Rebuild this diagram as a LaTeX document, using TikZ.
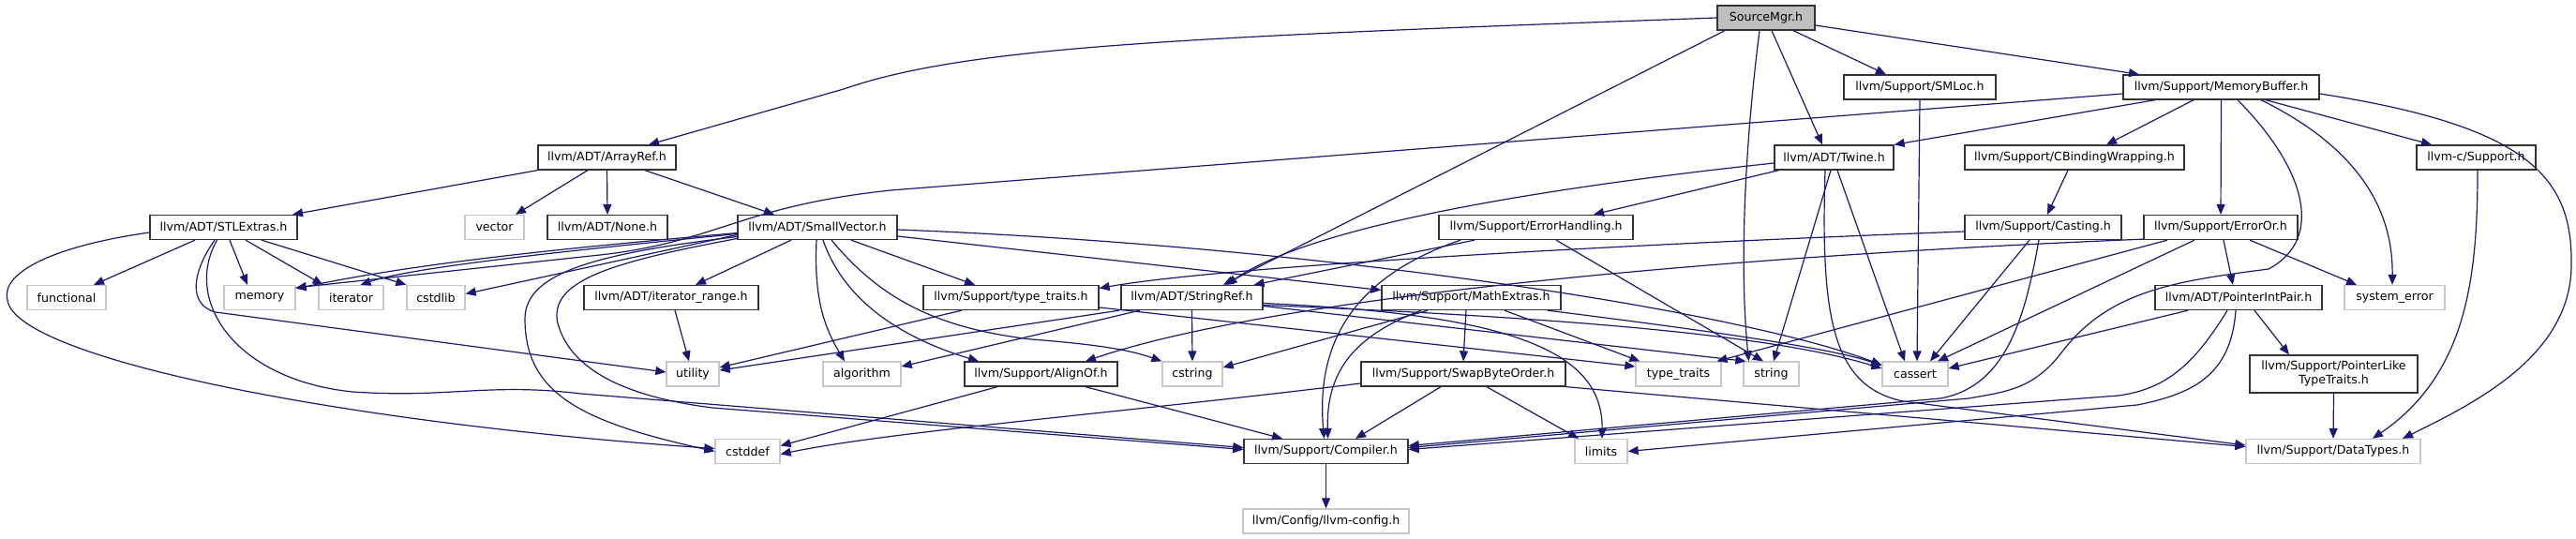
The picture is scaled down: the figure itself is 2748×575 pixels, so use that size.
\documentclass[tikz,border=0pt]{standalone}
\usepackage{fontspec}
\setmainfont{DejaVu Sans}
\usetikzlibrary{arrows.meta,calc}
\definecolor{edgec}{HTML}{191970}
\definecolor{srcfill}{HTML}{BFBFBF}
\begin{document}
\begin{tikzpicture}[x=1pt,y=-1pt,
 box/.style={draw=black!80, line width=1.3pt, fill=white, minimum height=26pt, inner sep=0pt, font=\fontsize{12.6}{15}\selectfont},
 sys/.style={box, draw=black!22, line width=1.3pt},
 e/.style={draw=edgec, line width=1.2pt, -{Triangle[length=11pt,width=9pt]}}]
\useasboundingbox[fill=white] (0,0) rectangle (2748,575);
% nodes
\node[box, fill=srcfill, minimum width=104pt] (SM) at (1884,19) {SourceMgr.h};
\node[box, minimum width=162pt] (SMLoc) at (2048,93) {llvm/Support/SMLoc.h};
\node[box, minimum width=209pt] (MB) at (2369.5,93) {llvm/Support/MemoryBuffer.h};
\node[box, minimum width=147pt] (AR) at (647.5,168) {llvm/ADT/ArrayRef.h};
\node[box, minimum width=127pt] (TW) at (1956.5,168) {llvm/ADT/Twine.h};
\node[box, minimum width=234pt] (CBW) at (2213,168) {llvm/Support/CBindingWrapping.h};
\node[box, minimum width=127pt] (LCS) at (2641.5,168) {llvm-c/Support.h};
\node[box, minimum width=157pt] (STL) at (238.5,242.5) {llvm/ADT/STLExtras.h};
\node[sys, minimum width=63pt] (vec) at (527.5,242.5) {vector};
\node[box, minimum width=128pt] (None) at (648,242.5) {llvm/ADT/None.h};
\node[box, minimum width=170pt] (SV) at (872,242.5) {llvm/ADT/SmallVector.h};
\node[box, minimum width=207pt] (EH) at (1638.5,242.5) {llvm/Support/ErrorHandling.h};
\node[box, minimum width=167pt] (CAST) at (2179.5,242.5) {llvm/Support/Casting.h};
\node[box, minimum width=164pt] (EO) at (2369,242.5) {llvm/Support/ErrorOr.h};
\node[sys, minimum width=84pt] (func) at (71,317.5) {functional};
\node[sys, minimum width=76pt] (mem) at (277,317.5) {memory};
\node[sys, minimum width=69pt] (iter) at (374.5,317.5) {iterator};
\node[sys, minimum width=62pt] (cstdlib) at (465,317.5) {cstdlib};
\node[box, minimum width=186pt] (IR) at (716,317.5) {llvm/ADT/iterator\_range.h};
\node[box, minimum width=187pt] (TTH) at (1078.5,317.5) {llvm/Support/type\_traits.h};
\node[box, minimum width=151pt] (SR) at (1271.5,317.5) {llvm/ADT/StringRef.h};
\node[box, minimum width=191pt] (ME) at (1569.5,317.5) {llvm/Support/MathExtras.h};
\node[box, minimum width=178pt] (PIP) at (2388,317.5) {llvm/ADT/PointerIntPair.h};
\node[sys, minimum width=107pt] (syserr) at (2554.5,317.5) {system\_error};
\node[sys, minimum width=56pt] (util) at (739,399) {utility};
\node[sys, minimum width=83pt] (algo) at (919.5,399) {algorithm};
\node[box, minimum width=163pt] (AO) at (1110.5,399) {llvm/Support/AlignOf.h};
\node[sys, minimum width=64pt] (cstring) at (1272,399) {cstring};
\node[box, minimum width=218pt] (SBO) at (1561,399) {llvm/Support/SwapByteOrder.h};
\node[sys, minimum width=91pt] (tt) at (1790.5,399) {type\_traits};
\node[sys, minimum width=59pt] (str) at (1889.5,399) {string};
\node[sys, minimum width=70pt] (cassert) at (2043,399) {cassert};
\node[box, minimum width=179pt, minimum height=40pt, align=center] (PLTT) at (2489.5,399) {llvm/Support/PointerLike\\TypeTraits.h};
\node[sys, minimum width=69pt] (cstddef) at (797.5,481.5) {cstddef};
\node[box, minimum width=175pt] (CMP) at (1414.5,481.5) {llvm/Support/Compiler.h};
\node[sys, minimum width=56pt] (lim) at (1708,481.5) {limits};
\node[sys, minimum width=186pt] (DT) at (2489,481.5) {llvm/Support/DataTypes.h};
\node[sys, minimum width=177pt] (cfg) at (1414.5,556) {llvm/Config/llvm-config.h};
% SourceMgr
\draw[e] (SM.west) .. controls (1250,40) and (1030,50) .. (900,95) -- ([xshift=44.5pt]AR.north);
\draw[e] ([xshift=-44pt]SM.south) -- ([xshift=33.5pt]SR.north);
\draw[e] ([xshift=-7pt]SM.south) .. controls (1862,150) and (1855,280) .. ([xshift=-24pt]str.north);
\draw[e] ([xshift=6pt]SM.south) -- ([xshift=-12.5pt]TW.north);
\draw[e] ([xshift=29pt]SM.south) -- ([xshift=-36pt]SMLoc.north);
\draw[e] ([yshift=-8pt]SM.east) -- ([xshift=-87.5pt]MB.north);
\draw[e] (SMLoc.south) -- ([xshift=2pt]cassert.north);
% MemoryBuffer
\draw[e] ([yshift=-7pt]MB.west) -- (950,203) .. controls (790,220) and (765,258) .. (640,272) -- ([yshift=-3pt]mem.north east);
\draw[e] ([xshift=-70.5pt]MB.south) -- (TW.north east);
\draw[e] ([xshift=-29.5pt]MB.south) -- ([xshift=34pt]CBW.north);
\draw[e] (MB.south) -- (EO.north);
\draw[e] ([xshift=47.5pt]MB.south) -- ([xshift=-47.5pt]LCS.north);
\draw[e] ([yshift=-7pt]MB.east) .. controls (2700,135) and (2745,190) .. (2743,285) .. controls (2741,380) and (2640,430) .. ([xshift=74pt]DT.north);
\draw[e] ([xshift=17.5pt]MB.south) .. controls (2460,180) and (2480,255) .. (2420,287) .. controls (2320,300) and (2250,310) .. (2200,375) .. controls (2170,415) and (2140,418) .. (2100,425) -- ([yshift=4pt]CMP.east);
\draw[e] ([xshift=42.5pt]MB.south) .. controls (2500,150) and (2553,210) .. ([xshift=-2.5pt]syserr.north);
% ArrayRef
\draw[e] (AR.south west) -- ([xshift=73.5pt]STL.north);
\draw[e] ([xshift=-20.5pt]AR.south) -- ([xshift=22.5pt]vec.north);
\draw[e] (AR.south) -- (None.north);
\draw[e] ([xshift=40.5pt]AR.south) -- ([xshift=-46pt]SV.north);
% Twine
\draw[e] ([yshift=-6pt]TW.west) .. controls (1650,200) and (1400,240) .. ([xshift=37pt]SR.north);
\draw[e] ([xshift=5pt]TW.south west) -- ([xshift=61.5pt]EH.north);
\draw[e] ([xshift=-3.5pt]TW.south) -- ([xshift=2.5pt]str.north);
\draw[e] ([xshift=3.5pt]TW.south) -- ([xshift=-11pt]cassert.north);
\draw[e] ([xshift=-9.5pt]TW.south) .. controls (1942,340) and (1955,412) .. (2030,428) -- ([yshift=6.5pt]DT.west);
\draw[e] ([xshift=-7pt]CBW.south) -- ([xshift=4.5pt]CAST.north);
\draw[e] ([xshift=1.5pt]LCS.south) .. controls (2643,300) and (2630,400) .. ([xshift=42pt]DT.north);
% STLExtras
\draw[e] ([xshift=-30.5pt]STL.south) -- ([xshift=29pt]func.north);
\draw[e] ([xshift=6.5pt]STL.south) -- ([xshift=-13pt]mem.north);
\draw[e] ([xshift=23.5pt]STL.south) -- ([xshift=-30pt]iter.north);
\draw[e] ([xshift=40.5pt]STL.south) -- (cstdlib.north west);
\draw[e] ([xshift=-9.5pt]STL.south) .. controls (205,290) and (200,325) .. (230,333) -- ([yshift=2pt]util.west);
\draw[e] ([yshift=-5.5pt]STL.west) .. controls (60,262) and (0,290) .. (8,320) .. controls (15,380) and (350,450) .. ([yshift=3pt]cstddef.west);
\draw[e] ([xshift=-7pt]STL.south) .. controls (195,320) and (250,405) .. (376,418) .. controls (480,425) and (520,408) .. (620,420) -- ([yshift=4pt]CMP.west);
% SmallVector
\draw[e] ([xshift=-28pt]SV.south) -- ([xshift=26pt]IR.north);
\draw[e] ([xshift=-1pt]SV.south) .. controls (868,320) and (880,350) .. ([xshift=-18.5pt]algo.north);
\draw[e] ([xshift=6pt]SV.south) .. controls (900,320) and (960,360) .. ([xshift=-66.5pt]AO.north);
\draw[e] ([xshift=15pt]SV.south) .. controls (940,320) and (1000,350) .. (1100,362) .. controls (1180,368) and (1210,375) .. (cstring.north west);
\draw[e] ([xshift=36pt]SV.south) -- ([xshift=-38.5pt]TTH.north);
\draw[e] ([yshift=-9.5pt]SV.east) -- ([yshift=8pt]ME.west);
\draw[e] ([yshift=-2.5pt]SV.east) .. controls (1400,262) and (1850,330) .. ([yshift=-4pt]cassert.north west);
\draw[e] ([yshift=-10pt]SV.west) .. controls (640,270) and (560,290) .. (560,340) .. controls (560,420) and (620,450) .. (cstddef.west);
\draw[e] ([yshift=-12pt]SV.west) .. controls (650,280) and (585,300) .. (595,345) .. controls (610,400) and (680,425) .. (760,435) -- ([yshift=2pt]CMP.west);
\draw[e] ([yshift=-6pt]SV.west) .. controls (600,265) and (450,280) .. ([yshift=-4pt]mem.north east);
\draw[e] ([yshift=-7pt]SV.west) .. controls (600,268) and (440,285) .. ([xshift=10pt]iter.north);
\draw[e] ([yshift=-8pt]SV.west) -- ([yshift=4pt]cstdlib.east);
% MathExtras
\draw[e] ([xshift=-46.5pt]ME.south) -- ([yshift=7pt]cstring.east);
\draw[e] ([xshift=-5.5pt]ME.south) -- (SBO.north);
\draw[e] ([xshift=35.5pt]ME.south) -- ([xshift=5pt]tt.north west);
\draw[e] ([xshift=-53.5pt]ME.south) .. controls (1440,360) and (1415,400) .. ([xshift=2pt]CMP.north);
\draw[e] ([xshift=81.5pt]ME.south) .. controls (1800,350) and (1950,370) .. ([yshift=9pt]cassert.west);
% SwapByteOrder
\draw[e] ([yshift=-10pt]SBO.west) .. controls (1200,440) and (950,460) .. ([yshift=-3pt]cstddef.east);
\draw[e] ([xshift=-24pt]SBO.south) -- ([xshift=31.5pt]CMP.north);
\draw[e] ([xshift=25pt]SBO.south) -- ([xshift=-24pt]lim.north);
\draw[e] (SBO.south east) -- ([yshift=5pt]DT.west);
% AlignOf
\draw[e] ([xshift=-46.5pt]AO.south) -- ([yshift=6pt]cstddef.east);
\draw[e] ([xshift=47.5pt]AO.south) -- ([xshift=-46.5pt]CMP.north);
% StringRef
\draw[e] ([xshift=-55.5pt]SR.south) -- ([yshift=8pt]algo.east);
\draw[e] ([xshift=-77.5pt]SR.south) -- ([yshift=4pt]util.east);
\draw[e] (SR.south) -- (cstring.north);
\draw[e] ([yshift=-6pt]SR.east) .. controls (1600,335) and (1710,370) .. ([xshift=1pt]lim.north);
\draw[e] ([yshift=-9pt]SR.east) -- ([xshift=3pt]str.north west);
\draw[e] ([yshift=-8pt]SR.east) .. controls (1700,340) and (1900,360) .. ([yshift=6pt]cassert.west);
% ErrorHandling
\draw[e] ([xshift=-65.5pt]EH.south) -- ([xshift=-10pt]SR.north east);
\draw[e] ([xshift=-80.5pt]EH.south) .. controls (1430,300) and (1405,380) .. ([xshift=-2pt]CMP.north);
\draw[e] ([xshift=21.5pt]EH.south) -- ([xshift=-8.5pt]str.north);
% type_traits.h
\draw[e] ([xshift=-52.5pt]TTH.south) -- ([yshift=7pt]util.east);
\draw[e] ([yshift=-10.5pt]TTH.east) -- ([yshift=8pt]tt.west);
% Casting
\draw[e] ([yshift=-4.5pt]CAST.west) .. controls (1700,262) and (1300,285) .. ([yshift=10pt]TTH.east);
\draw[e] ([xshift=-14.5pt]CAST.south) -- ([xshift=16pt]cassert.north);
\draw[e] ([xshift=-4.5pt]CAST.south) .. controls (2160,340) and (2140,412) .. (2070,425) -- ([yshift=6pt]CMP.east);
% ErrorOr
\draw[e] ([yshift=1pt]EO.south west) .. controls (1800,275) and (1350,320) .. ([xshift=47.5pt]AO.north);
\draw[e] ([xshift=-57pt]EO.south) -- ([xshift=41pt]tt.north);
\draw[e] ([xshift=-28pt]EO.south) -- ([xshift=24pt]cassert.north);
\draw[e] ([xshift=3pt]EO.south) -- ([xshift=-6pt]PIP.north);
\draw[e] ([xshift=31pt]EO.south) -- ([xshift=-40.5pt]syserr.north);
% PointerIntPair
\draw[e] ([xshift=-54pt]PIP.south) -- ([yshift=6pt]cassert.east);
\draw[e] ([xshift=-12pt]PIP.south) .. controls (2340,390) and (2310,415) .. (2260,422) -- ([yshift=2pt]CMP.east);
\draw[e] ([xshift=-3pt]PIP.south) .. controls (2380,400) and (2340,420) .. (2280,432) -- (lim.east);
\draw[e] ([xshift=17pt]PIP.south) -- ([xshift=-47.5pt]PLTT.north);
\draw[e] (PLTT.south) -- (DT.north);
\draw[e] ([xshift=4pt]IR.south) -- ([xshift=-4pt]util.north);
\draw[e] (CMP.south) -- (cfg.north);
\end{tikzpicture}
\end{document}
